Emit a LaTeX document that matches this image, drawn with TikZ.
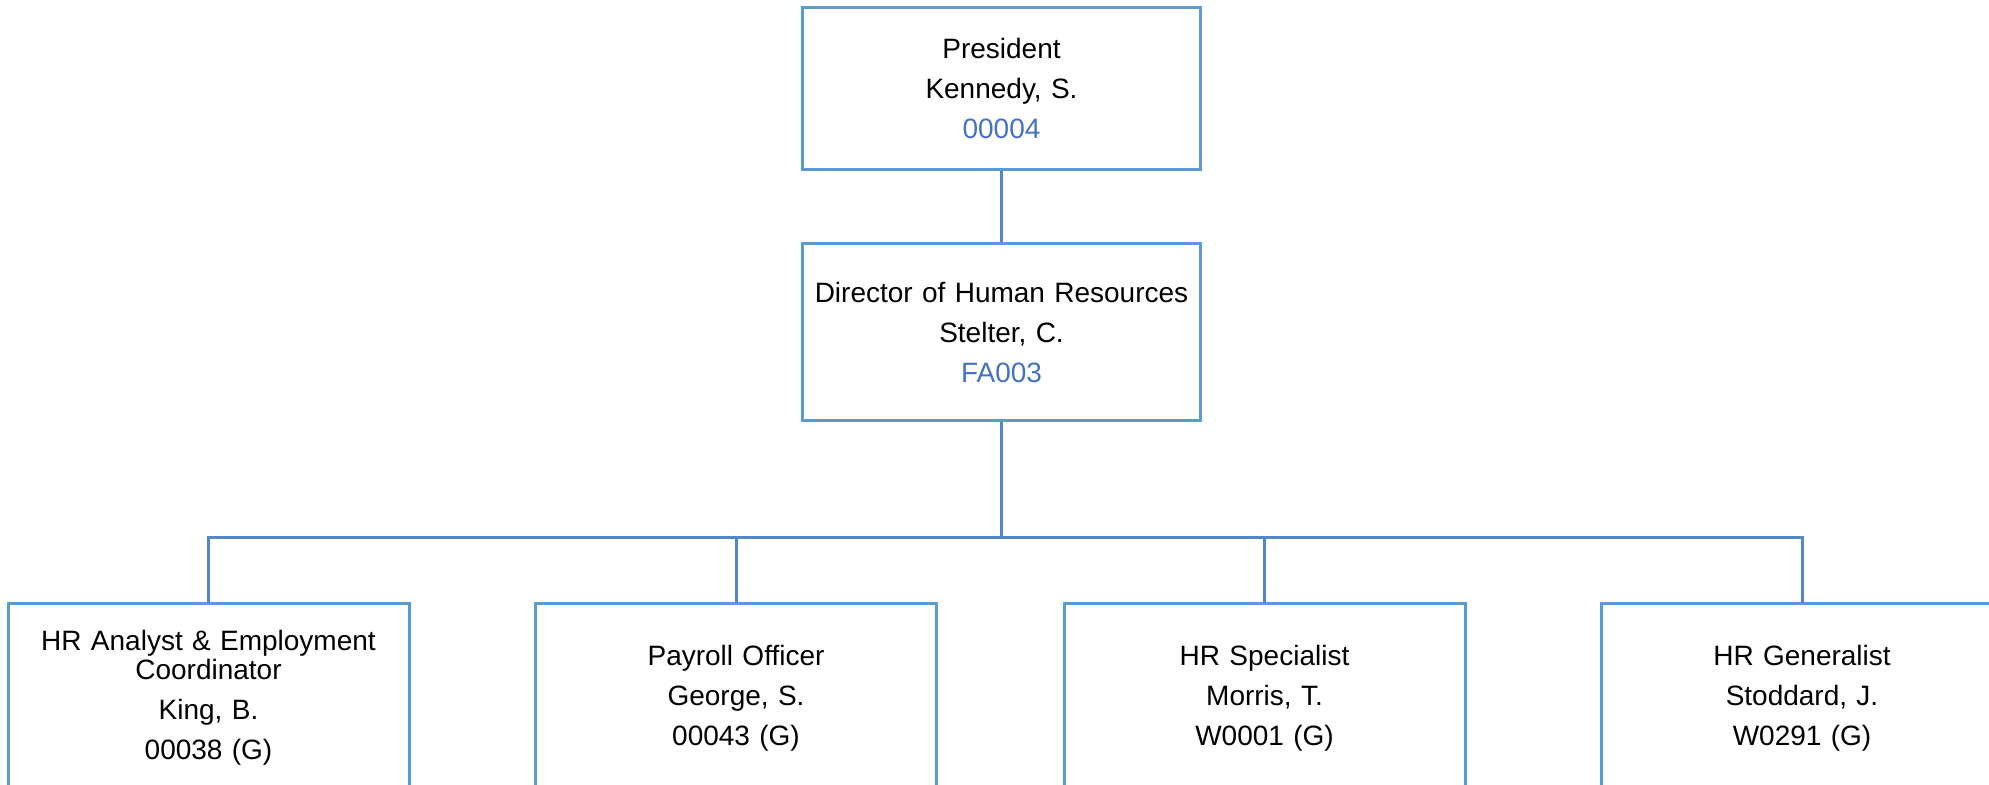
\documentclass[tikz,border=0pt]{standalone}
\usepackage{fontspec}
\setmainfont{Liberation Sans}
\usepackage{xcolor}
\usetikzlibrary{calc, positioning}
\definecolor{boxblue}{HTML}{5B9BD5}
\definecolor{linkblue}{HTML}{5089C4}
\definecolor{codeblue}{HTML}{4472C4}

\begin{document}
\begin{tikzpicture}[x=0.5pt, y=-0.5pt, node distance=35.5pt,
            every node/.style={font=\fontsize{14pt}{20pt}\selectfont},
            unit/.style={rectangle, draw=boxblue, line width=1.5pt, text width=190pt, minimum width=199pt, minimum height=81pt, align=center, inner sep=0pt},
            staff/.style={unit, draw=none, minimum height=93.5pt},
            link/.style={draw=linkblue, line width=1.5pt}
        ]
        \useasboundingbox (0,0) rectangle (1989,785);
        \clip (0,0) rectangle (1989,785);

        % Top of the chart
        \node[unit] (president) at (1001.5,88.5) {President\\Kennedy, S.\\\textcolor{codeblue}{00004}};
        \node[unit, minimum height=88.5pt, below=of president] (director) {Director of Human Resources\\Stelter, C.\\\textcolor{codeblue}{FA003}};

        % HR staff
        \node[staff] (analyst) at (208.5,698) {HR Analyst \& Employment\\[-5.5pt]Coordinator\\King, B.\\00038 (G)};
        \node[staff] (payroll) at (736,698) {Payroll Officer\\George, S.\\00043 (G)};
        \node[staff] (specialist) at (1264.5,698) {HR Specialist\\Morris, T.\\W0001 (G)};
        \node[staff] (generalist) at (1802,698) {HR Generalist\\Stoddard, J.\\W0291 (G)};
        \foreach \n in {analyst, payroll, specialist, generalist}
            \draw[draw=boxblue, line width=1.5pt] ([yshift=-30pt]\n.south west) rectangle (\n.north east);

        % Lines
        \coordinate (split) at ($(director.south)+(0,115)$);
        \draw[link] (president) -- (director);
        \draw[link] (director) -- (split);
        \draw[link] (split) -| (analyst);
        \draw[link] (split) -| (payroll);
        \draw[link] (split) -| (specialist);
        \draw[link] (split) -| (generalist);

    \end{tikzpicture}
\end{document}
